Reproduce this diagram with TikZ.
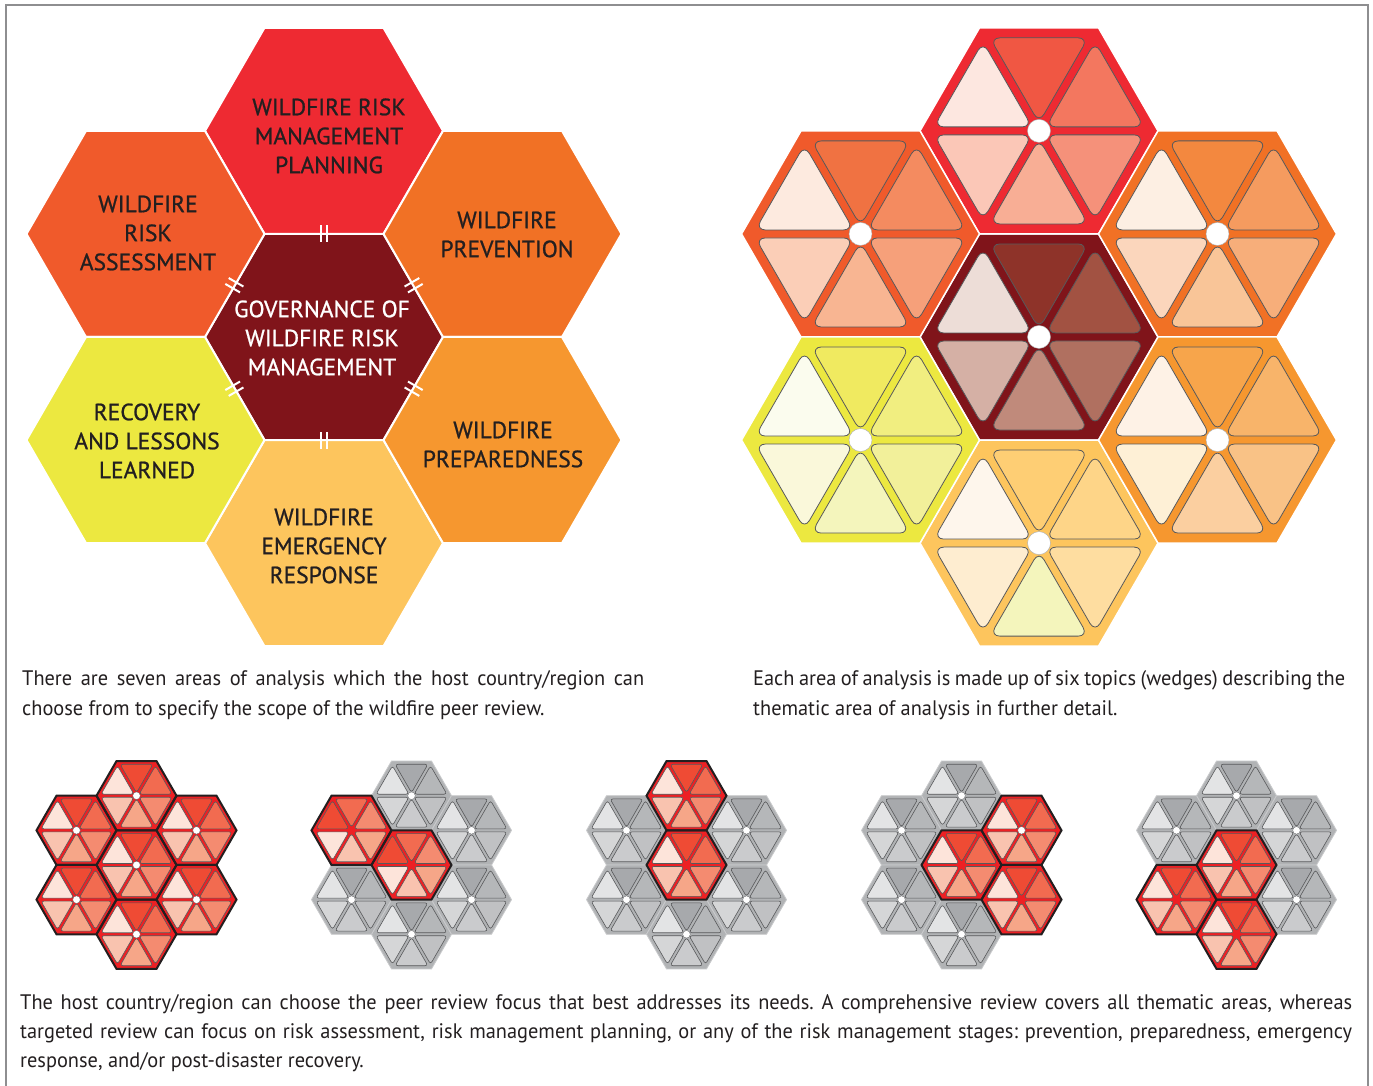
\documentclass[tikz,border=0pt]{standalone}
\usepackage{fontspec}
\setmainfont{PT Sans}
\newfontfamily\capfont{PT Sans}[FakeStretch=0.97]
\newfontfamily\labfont{PT Sans}[FakeBold=0.9]
\usetikzlibrary{calc}
\frenchspacing
\definecolor{labeltext}{HTML}{231F20}
\definecolor{captext}{HTML}{231F20}
\definecolor{cPlan}{HTML}{EE2A32}
\definecolor{cAssess}{HTML}{F05A2B}
\definecolor{cPrev}{HTML}{F17125}
\definecolor{cGov}{HTML}{80141A}
\definecolor{cRecov}{HTML}{ECE840}
\definecolor{cPrep}{HTML}{F6972F}
\definecolor{cEmerg}{HTML}{FDC55D}
\definecolor{wline}{HTML}{58595B}
\definecolor{sgray}{HTML}{B1B3B5}
\definecolor{sgrayedge}{HTML}{C9CACC}
\definecolor{sred}{HTML}{ED2024}
\definecolor{outl}{HTML}{231F20}
\definecolor{framec}{HTML}{8E8E90}
\def\wdr{4}\def\wdo{10}\def\wrc{10pt}\def\wlw{0.8pt}
\newcommand\hexfill[4]{%
  \path[#4, shift={(#1,#2)}] (0:#3) -- (60:#3) -- (120:#3) -- (180:#3) -- (240:#3) -- (300:#3) -- cycle;}
\newcommand\hexwedges[4]{%
  \pgfmathsetmacro\wy{#3*0.8660254-\wdo}%
  \pgfmathsetmacro\wx{(\wy-2*\wdr)/1.7320508}%
  \pgfmathsetmacro\wa{2*\wdr}%
  \foreach \c [count=\i] in {#4} {%
    \edef\tmpdef{\noexpand\definecolor{wfill}{HTML}{\c}}\tmpdef
    \filldraw[fill=wfill, draw=wline, line width=\wlw, rounded corners=\wrc, shift={(#1,#2)}, rotate={-60*(\i-1)}]
      (0,\wy) -- (\wx,\wy) -- (0,\wa) -- (-\wx,\wy) -- cycle;
  }}
\newcommand\sdot[2]{\filldraw[fill=white, draw=wline, line width=0.3pt] (#1,#2) circle (3.8);}
\newcommand\grayhex[2]{%
  \hexfill{#1}{#2}{40}{fill=sgray, draw=sgrayedge, line width=0.8pt}%
  \hexwedges{#1}{#2}{40}{A7A9AC,B5B7B9,C0C1C3,CACBCD,D5D6D7,E3E4E5}%
  \sdot{#1}{#2}}
\newcommand\redhex[2]{%
  \hexfill{#1}{#2}{40}{fill=sred}%
  \hexwedges{#1}{#2}{40}{EF4B34,F26B50,F48B70,F6A688,F9C3AF,FDE4DA}}
\newcommand\redhexb[2]{%
  \hexfill{#1}{#2}{40}{fill=sred}%
  \hexwedges{#1}{#2}{40}{F26B50,F48B70,F6A688,F9C3AF,FDE4DA,EF4B34}}
\newcommand\redout[2]{\hexfill{#1}{#2}{40}{draw=outl, line width=2pt, line join=miter}}
\tikzset{
  hexlabel/.style={font=\labfont\fontsize{23.5}{29}\selectfont, text=labeltext, align=center, inner sep=0pt},
  govlabel/.style={hexlabel, text=white},
  capline/.style={font=\capfont\fontsize{21}{30}\selectfont, text=captext, inner sep=0pt, anchor=base west},
}
\begin{document}
\begin{tikzpicture}[x=1pt,y=1pt]
\useasboundingbox (0,0) rectangle (1373,1086);
\fill[white] (0,0) rectangle (1373,1086);
% frame
\draw[framec, line width=2.5pt] (6,-5) -- (6,1081) -- (1368,1081) -- (1368,-5);

% ===== left cluster =====
\begin{scope}[shift={(324,749)}]
  \hexfill{0}{0}{119}{fill=cGov, draw=white, line width=2pt}
  \hexfill{0}{206.1}{119}{fill=cPlan, draw=white, line width=2pt}
  \hexfill{0}{-206.1}{119}{fill=cEmerg, draw=white, line width=2pt}
  \hexfill{-178.5}{103.05}{119}{fill=cAssess, draw=white, line width=2pt}
  \hexfill{178.5}{103.05}{119}{fill=cPrev, draw=white, line width=2pt}
  \hexfill{-178.5}{-103.05}{119}{fill=cRecov, draw=white, line width=2pt}
  \hexfill{178.5}{-103.05}{119}{fill=cPrep, draw=white, line width=2pt}
  \foreach \a in {30,90,...,330}
    \draw[white, line width=2pt, rotate=\a] (95,3.4) -- (112,3.4) (95,-3.4) -- (112,-3.4);
\end{scope}
\node[hexlabel] (plan) at (329,950) {WILDFIRE RISK\\MANAGEMENT\\PLANNING};
\node[hexlabel] (assess) at (148,853) {WILDFIRE\\RISK\\ASSESSMENT};
\node[hexlabel] (prev) at (507,851.5) {WILDFIRE\\PREVENTION};
\node[govlabel] (gov) at (322,748) {GOVERNANCE OF\\WILDFIRE RISK\\MANAGEMENT};
\node[hexlabel] (recov) at (147,645) {RECOVERY\\AND LESSONS\\LEARNED};
\node[hexlabel] (prep) at (503,641.5) {WILDFIRE\\PREPAREDNESS};
\node[hexlabel] (emerg) at (324,540) {WILDFIRE\\EMERGENCY\\RESPONSE};

% ===== right cluster =====
\begin{scope}[shift={(1039,749)}]
  \hexfill{0}{0}{119}{fill=cGov, draw=white, line width=1.5pt}
  \hexfill{0}{206.1}{119}{fill=cPlan, draw=white, line width=1.5pt}
  \hexfill{0}{-206.1}{119}{fill=cEmerg, draw=white, line width=1.5pt}
  \hexfill{-178.5}{103.05}{119}{fill=cAssess, draw=white, line width=1.5pt}
  \hexfill{178.5}{103.05}{119}{fill=cPrev, draw=white, line width=1.5pt}
  \hexfill{-178.5}{-103.05}{119}{fill=cRecov, draw=white, line width=1.5pt}
  \hexfill{178.5}{-103.05}{119}{fill=cPrep, draw=white, line width=1.5pt}
  \hexwedges{0}{0}{119}{8E3329,A25242,B07060,C08A7B,D5B0A5,EDDDD7}
  \hexwedges{0}{206.1}{119}{F05743,F3775F,F5917A,F8AE95,FBC7B7,FDE7E0}
  \hexwedges{0}{-206.1}{119}{FECE74,FED588,FEDDA0,F4F5BC,FEEDD0,FEF6EC}
  \hexwedges{-178.5}{103.05}{119}{F07242,F48B60,F6A07A,F8B592,FBCEB7,FDEADF}
  \hexwedges{178.5}{103.05}{119}{F3883F,F59B5F,F7AE7A,F9C598,FBD6BC,FDEFE3}
  \hexwedges{-178.5}{-103.05}{119}{F0EA60,F1EE80,F2F09A,F4F5BC,FAF8DA,FBFCEE}
  \hexwedges{178.5}{-103.05}{119}{F7A54B,F8B46A,F9C286,FBCFA0,FEF0D6,FEF2E6}
  \foreach \p in {(0,0),(0,206.1),(0,-206.1),(-178.5,103.05),(178.5,103.05),(-178.5,-103.05),(178.5,-103.05)}
    \filldraw[fill=white, draw=wline!50, line width=0.4pt] \p circle (11.5);
\end{scope}

% ===== captions =====
\node[capline] (capL1) at (22,400) {\makebox[622pt][s]{There are seven areas of analysis which the host country/region can}};
\node[capline] (capL2) at (22,370) {choose from to specify the scope of the wildfire peer review.};
\node[capline] (capR1) at (753,400) {\makebox[592pt][s]{Each area of analysis is made up of six topics (wedges) describing the}};
\node[capline] (capR2) at (753,370) {thematic area of analysis in further detail.};

% ===== small clusters =====
\def\wdr{1.5}\def\wdo{3.2}\def\wrc{2.8pt}\def\wlw{0.6pt}
% cluster 1: all
\begin{scope}[shift={(136.5,221)}]
  \redhex{0}{0}\redhex{0}{69.28}\redhex{0}{-69.28}
  \redhex{-60}{34.64}\redhex{60}{34.64}\redhex{-60}{-34.64}\redhex{60}{-34.64}
  \redout{0}{0}\redout{0}{69.28}\redout{0}{-69.28}
  \redout{-60}{34.64}\redout{60}{34.64}\redout{-60}{-34.64}\redout{60}{-34.64}
  \sdot{0}{0}\sdot{0}{69.28}\sdot{0}{-69.28}
  \sdot{-60}{34.64}\sdot{60}{34.64}\sdot{-60}{-34.64}\sdot{60}{-34.64}
\end{scope}
% cluster 2: assessment
\begin{scope}[shift={(411.5,221)}]
  \grayhex{0}{69.28}\grayhex{0}{-69.28}\grayhex{60}{34.64}\grayhex{-60}{-34.64}\grayhex{60}{-34.64}
  \redhexb{-60}{34.64}\redhexb{0}{0}
  \redout{-60}{34.64}\redout{0}{0}
\end{scope}
% cluster 3: planning
\begin{scope}[shift={(686.5,221)}]
  \grayhex{-60}{34.64}\grayhex{60}{34.64}\grayhex{-60}{-34.64}\grayhex{60}{-34.64}\grayhex{0}{-69.28}
  \redhex{0}{69.28}\redhex{0}{0}
  \redout{0}{69.28}\redout{0}{0}
\end{scope}
% cluster 4: prevention / preparedness
\begin{scope}[shift={(961.5,221)}]
  \grayhex{0}{69.28}\grayhex{-60}{34.64}\grayhex{-60}{-34.64}\grayhex{0}{-69.28}
  \redhex{60}{34.64}\redhex{0}{0}\redhex{60}{-34.64}
  \redout{60}{34.64}\redout{0}{0}\redout{60}{-34.64}
  \sdot{60}{34.64}
\end{scope}
% cluster 5: emergency / recovery
\begin{scope}[shift={(1236.5,221)}]
  \grayhex{0}{69.28}\grayhex{-60}{34.64}\grayhex{60}{34.64}\grayhex{60}{-34.64}
  \redhex{0}{0}\redhex{-60}{-34.64}\redhex{0}{-69.28}
  \redout{0}{0}\redout{-60}{-34.64}\redout{0}{-69.28}
\end{scope}

% ===== bottom caption =====
\node[capline] (capB1) at (20,76) {\makebox[1332pt][s]{The host country/region can choose the peer review focus that best addresses its needs. A comprehensive review covers all thematic areas, whereas}};
\node[capline] (capB2) at (20,47) {\makebox[1332pt][s]{targeted review can focus on risk assessment, risk management planning, or any of the risk management stages: prevention, preparedness, emergency}};
\node[capline] (capB3) at (20,18) {response, and/or post-disaster recovery.};
\end{tikzpicture}
\end{document}
